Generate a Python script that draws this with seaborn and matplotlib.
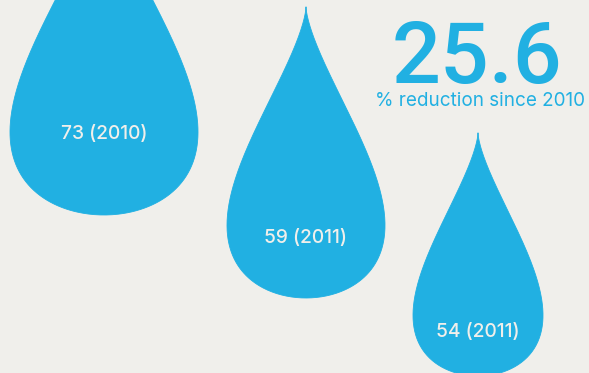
import numpy as np
import pandas as pd
import matplotlib
matplotlib.use("Agg")
import matplotlib.pyplot as plt
import seaborn as sns

# ---- data ----
values = [73, 59, 54]
years = ["2010", "2011", "2011"]
headline_value = 25.6
headline_label = "% reduction since 2010"

# ---- layout (pixels) ----
drop_cx = [104, 306, 478]
drop_tip = [-117, 7, 133]
drop_bottom = [215, 298, 376]
drop_width = [188, 158, 130]
label_y = [134, 238, 332]

BG = "#f0efeb"
BLUE = "#21b0e2"
TXT = "#f0efeb"

sns.set_theme(style="white")
plt.rcParams["font.family"] = ["Inter", "DejaVu Sans"]

fig = plt.figure(figsize=(5.89, 3.73), dpi=100, facecolor=BG)
ax = fig.add_axes([0, 0, 1, 1])
ax.set_facecolor(BG)

t = np.linspace(0, 2 * np.pi, 600)
ux = np.sin(t) * np.sin(t / 2) ** 2      # max |ux| = 0.6495
uy = np.cos(t)                            # 1 = tip, -1 = bottom

rows = []
for i, (v, yr) in enumerate(zip(values, years)):
    H = drop_bottom[i] - drop_tip[i]
    W = drop_width[i]
    xs = drop_cx[i] + ux / (2 * 0.6495) * W
    ys = drop_tip[i] + (1 - uy) / 2 * H
    ax.fill(xs, ys, color=BLUE, lw=0, zorder=2)
    rows.append(pd.DataFrame({"x": xs, "y": ys, "drop": f"{v} ({yr})"}))
    ax.text(drop_cx[i], label_y[i], f"{v} ({yr})", color=TXT, fontsize=13.8,
            ha="center", va="center", fontweight="medium", zorder=3)

outline = pd.concat(rows, ignore_index=True)
sns.lineplot(data=outline, x="x", y="y", units="drop", estimator=None, sort=False,
             color=BLUE, lw=0.6, ax=ax, legend=False, zorder=2)
ax.set_xlim(0, 589)
ax.set_ylim(373, 0)
ax.axis("off")

ax.text(477, 83, f"{headline_value}", color=BLUE, fontsize=62, ha="center",
        va="baseline", fontweight="medium", family=["Roboto", "DejaVu Sans"])
ax.text(480, 101, headline_label, color=BLUE, fontsize=13.6, ha="center",
        va="center")

fig.savefig("out.png", dpi=100, facecolor=BG)
